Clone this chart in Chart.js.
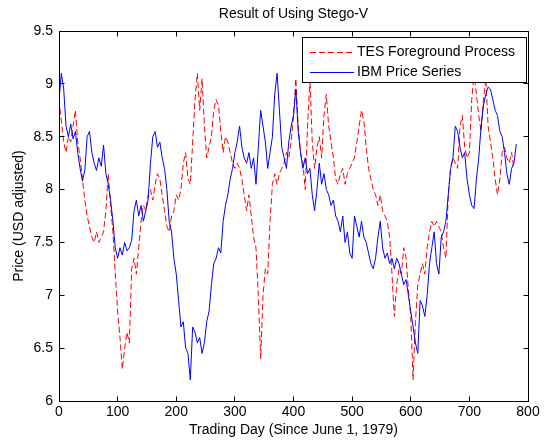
<!DOCTYPE html>
<html>
<head>
<meta charset="utf-8">
<script src="https://cdn.jsdelivr.net/npm/chart.js@4"></script>
<style>
  html, body { margin: 0; padding: 0; background: #fff; }
  canvas { display: block; }
</style>
</head>
<body>
<canvas id="stego" width="545" height="442"></canvas>
<script>
// sampled every 4 trading days, starting at day 0
const STEP = 4;

const ibmPrice = [
  8.85, 9.10, 8.95, 8.60, 8.50, 8.62, 8.48, 8.55, 8.35, 8.20,
  8.08, 8.18, 8.50, 8.55, 8.35, 8.25, 8.18, 8.30, 8.22, 8.42,
  8.15, 8.05, 7.90, 7.70, 7.45, 7.35, 7.45, 7.38, 7.50, 7.42,
  7.45, 7.52, 7.80, 7.90, 7.75, 7.85, 7.70, 7.80, 7.90, 8.25,
  8.50, 8.55, 8.40, 8.45, 8.30, 8.20, 8.00, 7.70, 7.60, 7.35,
  7.20, 6.95, 6.70, 6.75, 6.50, 6.45, 6.20, 6.70, 6.65, 6.55,
  6.60, 6.45, 6.55, 6.75, 6.85, 7.10, 7.30, 7.35, 7.45, 7.40,
  7.70, 7.85, 7.95, 8.10, 8.20, 8.35, 8.45, 8.60, 8.40, 8.30,
  8.25, 8.35, 8.20, 8.30, 8.05, 8.40, 8.75, 8.60, 8.45, 8.20,
  8.35, 8.50, 8.90, 9.10, 8.75, 8.40, 8.30, 8.20, 8.45, 8.60,
  8.70, 8.95, 8.55, 8.35, 8.20, 8.30, 8.15, 8.20, 7.95, 7.80,
  8.00, 8.25, 8.05, 8.15, 8.00, 7.95, 7.85, 7.90, 7.75, 7.70,
  7.60, 7.75, 7.50, 7.60, 7.40, 7.35, 7.75, 7.65, 7.55, 7.70,
  7.55, 7.50, 7.40, 7.30, 7.25, 7.35, 7.55, 7.70, 7.45, 7.35,
  7.40, 7.30, 7.35, 7.25, 7.35, 7.30, 7.20, 7.10, 7.15, 7.00,
  6.85, 6.70, 6.55, 6.45, 6.95, 6.90, 6.80, 7.00, 7.30, 7.45,
  7.60, 7.30, 7.20, 7.55, 7.60, 7.70, 7.95, 8.20, 8.30, 8.60,
  8.55, 8.40, 8.30, 8.35, 8.10, 7.95, 7.85, 7.82, 8.10, 8.30,
  8.60, 8.80, 8.90, 8.97, 8.95, 8.85, 8.75, 8.70, 8.55, 8.50,
  8.35, 8.15, 8.05, 8.20, 8.25, 8.43
];

const tesProcess = [
  8.85, 8.65, 8.45, 8.35, 8.50, 8.45, 8.60, 8.75, 8.45, 8.30,
  8.10, 7.90, 7.75, 7.65, 7.55, 7.50, 7.60, 7.50, 7.55, 7.60,
  7.80, 8.15, 7.85, 7.60, 7.20, 6.85, 6.60, 6.30, 6.50, 6.65,
  6.55, 7.25, 7.35, 7.20, 7.45, 7.70, 7.85, 7.80, 7.95, 8.00,
  7.90, 8.05, 8.15, 8.10, 7.95, 7.80, 7.65, 7.60, 7.75, 7.80,
  7.95, 7.90, 8.00, 8.25, 8.35, 8.10, 8.05, 8.45, 8.85, 9.10,
  8.75, 9.05, 8.60, 8.30, 8.40, 8.50, 8.75, 8.85, 8.80, 8.55,
  8.35, 8.50, 8.45, 8.35, 8.25, 8.20, 8.25, 8.20, 8.10, 7.95,
  7.80, 7.95, 7.75, 7.55, 7.45, 7.00, 6.40, 7.00, 7.25, 7.20,
  7.70, 8.05, 8.15, 8.05, 8.15, 8.20, 8.25, 8.35, 8.30, 8.45,
  8.70, 9.05, 8.60, 8.35, 8.25, 8.00, 8.60, 9.05, 8.45, 8.20,
  8.40, 8.50, 8.30, 8.70, 8.90, 8.60, 8.45, 8.30, 8.10, 8.05,
  8.15, 8.20, 8.05, 8.15, 8.20, 8.25, 8.30, 8.45, 8.60, 8.75,
  8.65, 8.40, 8.20, 8.10, 8.00, 7.95, 7.85, 7.95, 7.80, 7.75,
  7.70, 7.55, 7.20, 6.80, 7.10, 7.25, 7.20, 7.45, 7.35, 7.05,
  6.80, 6.20, 6.75, 7.10, 7.20, 7.30, 7.20, 7.45, 7.60, 7.70,
  7.65, 7.70, 7.65, 7.60, 7.45, 7.35, 7.95, 8.20, 8.30, 8.25,
  8.20, 8.60, 8.70, 8.40, 8.30, 8.35, 8.85, 9.10, 8.90, 8.70,
  8.55, 8.85, 9.05, 8.60, 8.45, 8.30, 8.10, 7.95, 8.10, 8.35,
  8.40, 8.30, 8.25, 8.35, 8.20
];

const xTicks = [0, 100, 200, 300, 400, 500, 600, 700, 800];
const yTicks = [6, 6.5, 7, 7.5, 8, 8.5, 9, 9.5];
const seriesNames = ["TES Foreground Process", "IBM Price Series"];

const FONT = "'Liberation Sans', Arial, sans-serif";

const toPoints = (values) => values.map((v, i) => ({ x: i * STEP, y: v }));

// matlab style box, inward ticks, title and legend
const matlabFrame = {
  id: "matlabFrame",
  afterDraw(chart) {
    const { ctx, chartArea: a, scales } = chart;
    const L = Math.floor(a.left) + 0.5;
    const R = Math.floor(a.right) + 0.5;
    const T = Math.floor(a.top) + 0.5;
    const B = Math.floor(a.bottom) + 0.5;
    const tick = 5;

    ctx.save();
    ctx.strokeStyle = "#000";
    ctx.lineWidth = 1;
    ctx.strokeRect(L, T, R - L, B - T);

    ctx.beginPath();
    xTicks.forEach((v) => {
      const px = Math.floor(scales.x.getPixelForValue(v)) + 0.5;
      ctx.moveTo(px, B); ctx.lineTo(px, B - tick);
      ctx.moveTo(px, T); ctx.lineTo(px, T + tick);
    });
    yTicks.forEach((v) => {
      const py = Math.floor(scales.y.getPixelForValue(v)) + 0.5;
      ctx.moveTo(L, py); ctx.lineTo(L + tick, py);
      ctx.moveTo(R, py); ctx.lineTo(R - tick, py);
    });
    ctx.stroke();

    // title, centred over the axes
    ctx.fillStyle = "#000";
    ctx.font = "14px " + FONT;
    ctx.textAlign = "center";
    ctx.textBaseline = "middle";
    ctx.fillText("Result of Using Stego-V", (a.left + a.right) / 2, 14);

    // legend box (north east)
    const bx = 302.5, by = 37.5, bw = 224, bh = 45;
    ctx.fillStyle = "#fff";
    ctx.fillRect(bx, by, bw, bh);
    ctx.strokeRect(bx, by, bw, bh);

    const rows = [
      { y: 52.5, color: "#ff0000", dash: [6, 3] },
      { y: 72.5, color: "#0000ff", dash: [] }
    ];
    rows.forEach((r, i) => {
      ctx.strokeStyle = r.color;
      ctx.setLineDash(r.dash);
      ctx.beginPath();
      ctx.moveTo(310, r.y);
      ctx.lineTo(354, r.y);
      ctx.stroke();
      ctx.setLineDash([]);
      ctx.fillStyle = "#000";
      ctx.textAlign = "left";
      ctx.fillText(seriesNames[i], 357, r.y);
    });
    ctx.restore();
  }
};

const canvas = document.getElementById("stego");

new Chart(canvas.getContext("2d"), {
  type: "line",
  data: {
    datasets: [
      {
        label: seriesNames[0],
        data: toPoints(tesProcess),
        borderColor: "#ff0000",
        borderWidth: 1,
        borderDash: [6, 3],
        pointRadius: 0,
        tension: 0,
        order: 2
      },
      {
        label: seriesNames[1],
        data: toPoints(ibmPrice),
        borderColor: "#0000ff",
        borderWidth: 1,
        pointRadius: 0,
        tension: 0,
        order: 1
      }
    ]
  },
  options: {
    responsive: false,
    animation: false,
    devicePixelRatio: 1,
    layout: { padding: { top: 31, right: 17, left: 0, bottom: 0 } },
    scales: {
      x: {
        type: "linear",
        min: 0,
        max: 800,
        afterFit: (s) => { s.height = 41; },
        afterBuildTicks: (s) => { s.ticks = xTicks.map((v) => ({ value: v })); },
        grid: { display: false, drawTicks: false },
        border: { display: false },
        ticks: {
          color: "#000",
          padding: 3,
          maxRotation: 0,
          font: { family: FONT, size: 14 },
          callback: (v) => String(v)
        },
        title: {
          display: true,
          text: "Trading Day (Since June 1, 1979)",
          color: "#000",
          font: { family: FONT, size: 14 },
          padding: { top: 0, bottom: 3.5 }
        }
      },
      y: {
        min: 6,
        max: 9.5,
        afterFit: (s) => { s.width = 59; },
        afterBuildTicks: (s) => { s.ticks = yTicks.map((v) => ({ value: v })); },
        grid: { display: false, drawTicks: false },
        border: { display: false },
        ticks: {
          color: "#000",
          padding: 6,
          font: { family: FONT, size: 14 },
          callback: (v) => String(v)
        },
        title: {
          display: true,
          text: "Price (USD adjusted)",
          color: "#000",
          font: { family: FONT, size: 14 },
          padding: { top: 10.5, bottom: 0 }
        }
      }
    },
    plugins: {
      legend: { display: false },
      title: { display: false },
      tooltip: { enabled: false }
    }
  },
  plugins: [matlabFrame]
});
</script>
</body>
</html>
